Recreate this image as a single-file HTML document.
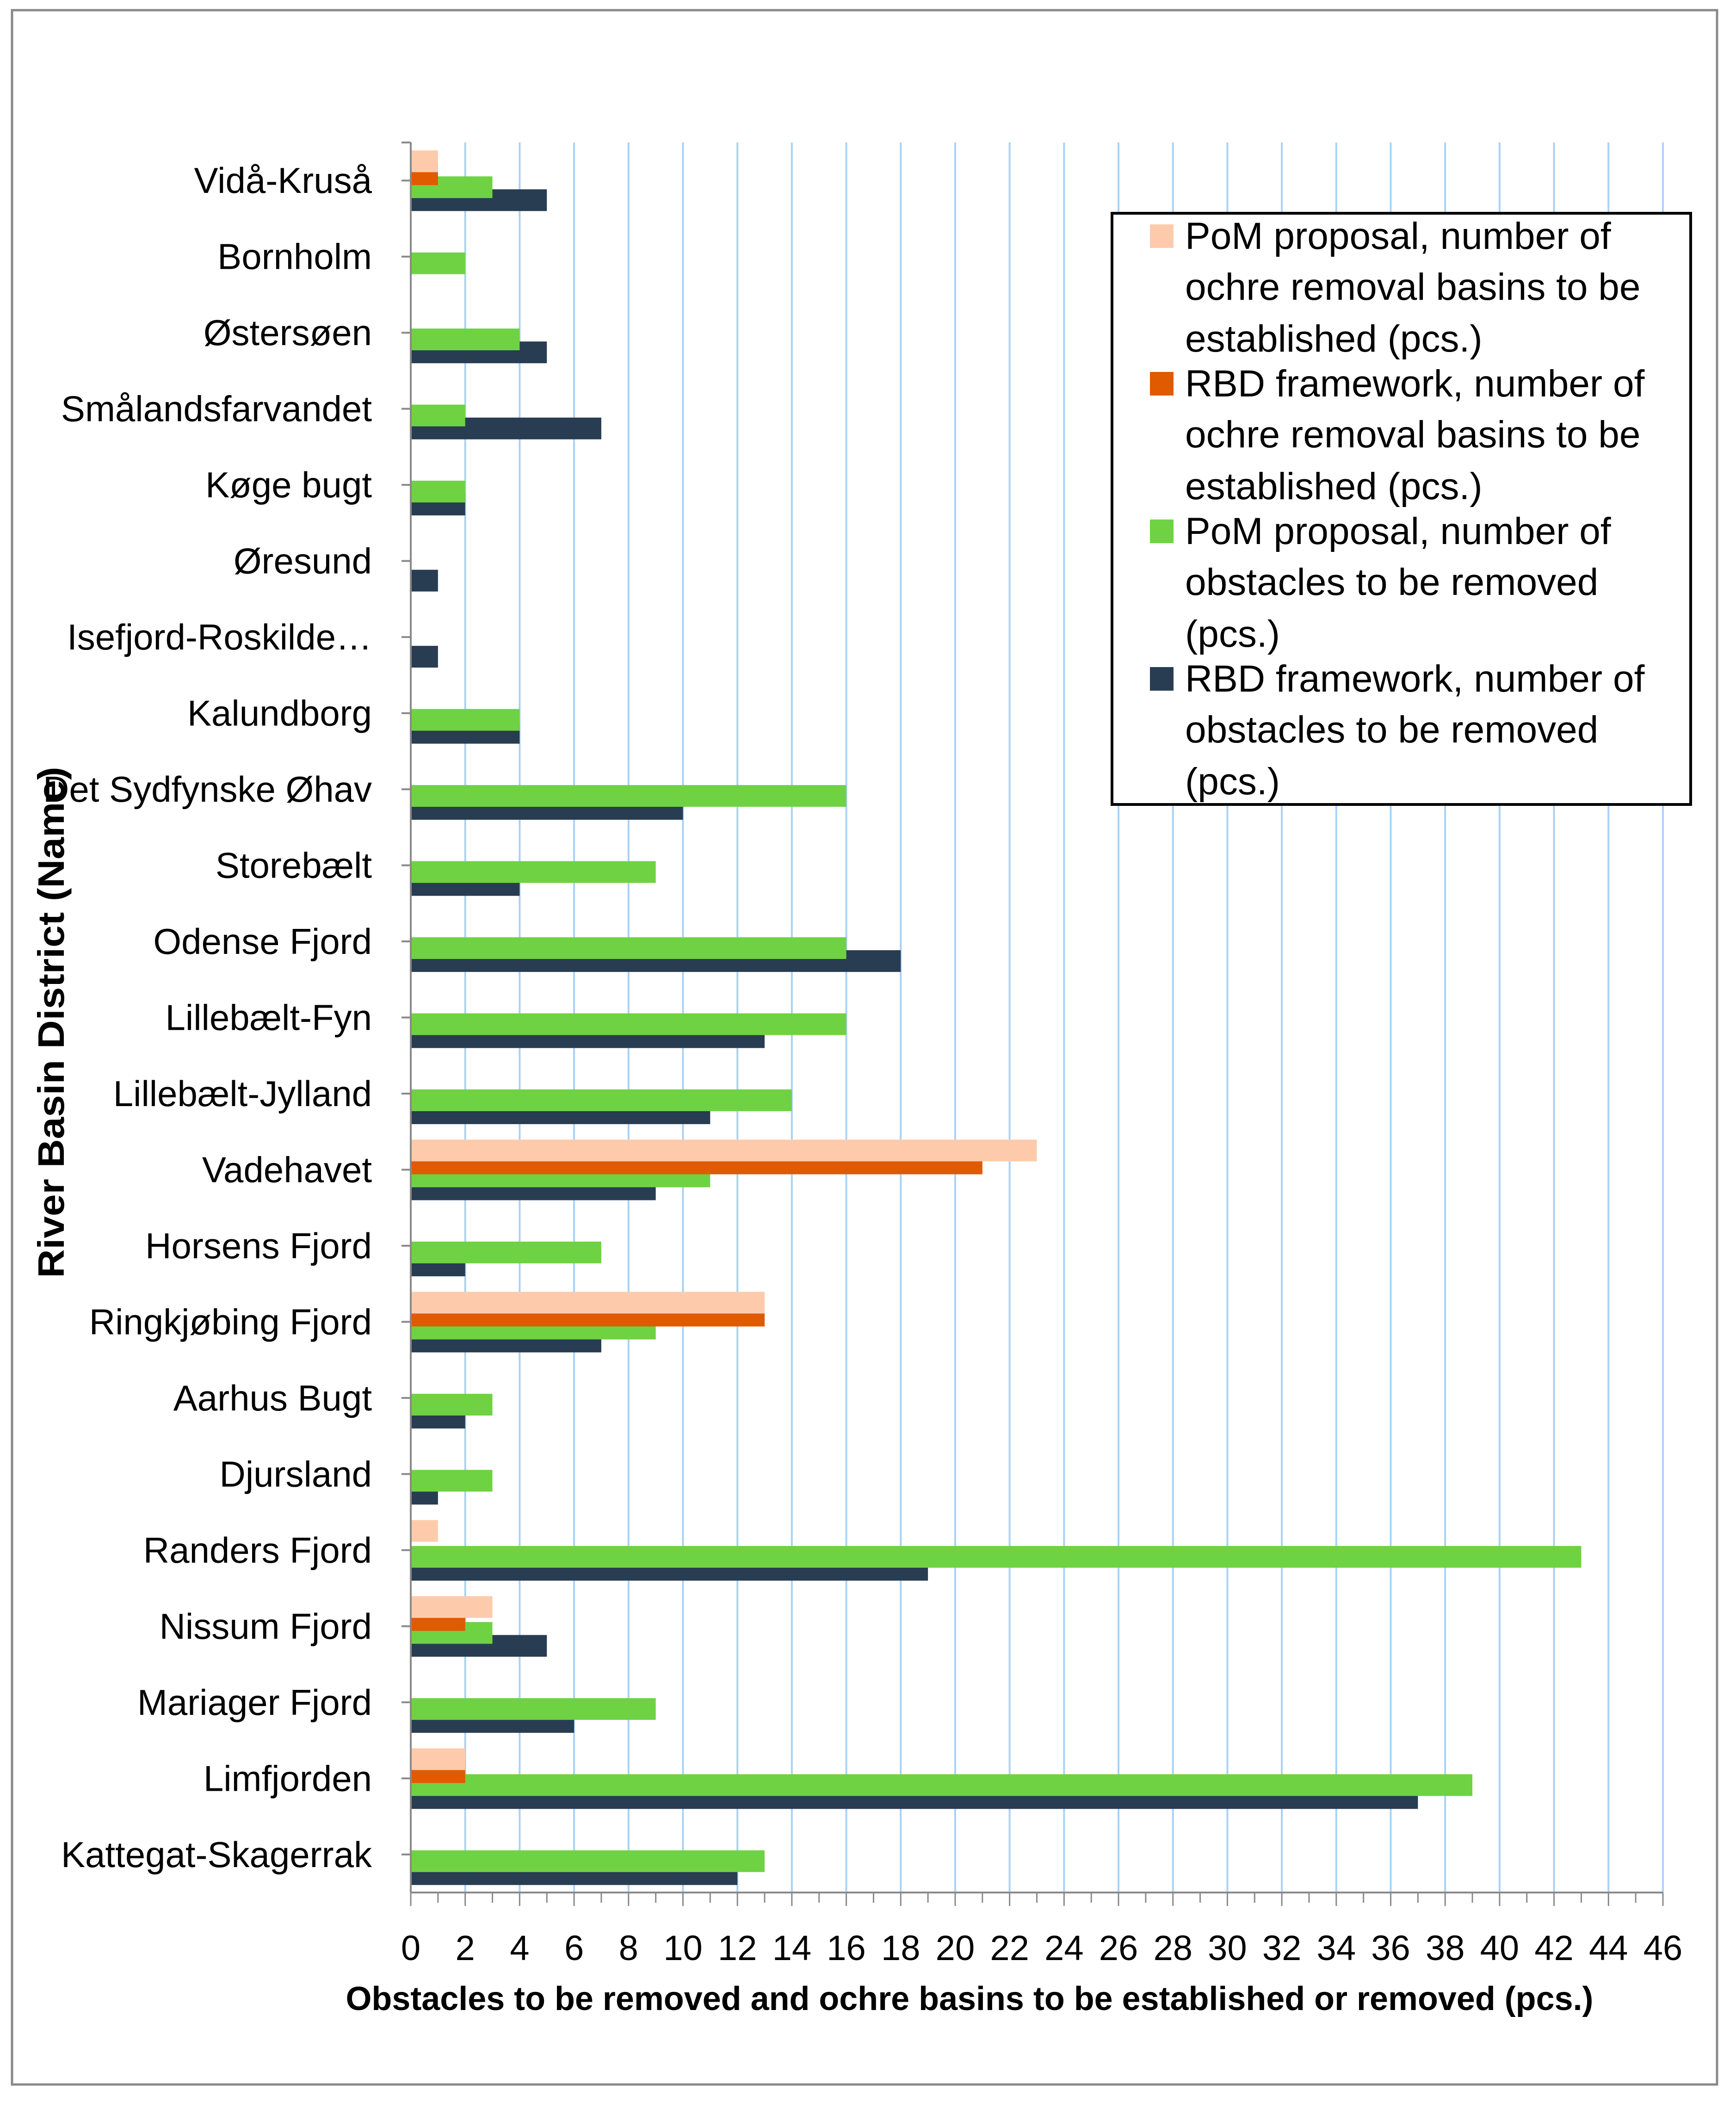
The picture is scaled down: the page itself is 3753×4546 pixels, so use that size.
<!DOCTYPE html>
<html><head><meta charset="utf-8"><style>
html,body{margin:0;padding:0;background:#fff;}
svg{display:block;font-family:"Liberation Sans",sans-serif;}
</style></head><body>
<svg id="chart" xmlns="http://www.w3.org/2000/svg" width="3753" height="4546" viewBox="0 0 3753 4546">
<rect x="26" y="22" width="3686" height="4484" fill="#fff" stroke="#898989" stroke-width="5"/>
<g id="grid"></g>
<g id="bars"></g>
<g id="axes"></g>
<g id="ylabels" font-size="78" text-anchor="end" fill="#000"></g>
<g id="xlabels" font-size="76" text-anchor="middle" fill="#000"></g>
<text x="2096" y="4345" font-size="72" font-weight="bold" text-anchor="middle" textLength="2697" lengthAdjust="spacingAndGlyphs">Obstacles to be removed and ochre basins to be established or removed (pcs.)</text>
<text x="0" y="0" font-size="80" font-weight="bold" text-anchor="middle" textLength="1105" lengthAdjust="spacingAndGlyphs" transform="translate(138,2210) rotate(-90)">River Basin District (Name)</text>
<g>
<rect x="2404" y="461" width="1251" height="1278" fill="#fff" stroke="#000" stroke-width="6"/>
<rect x="2486" y="485" width="51" height="51" fill="#fdcbac"/>
<rect x="2486" y="804" width="51" height="51" fill="#e05a00"/>
<rect x="2486" y="1123" width="51" height="51" fill="#6fd242"/>
<rect x="2486" y="1442" width="51" height="51" fill="#283d52"/>
<g font-size="82" fill="#000">
<text><tspan x="2562" y="538">PoM proposal, number of</tspan><tspan x="2562" y="648">ochre removal basins to be</tspan><tspan x="2562" y="760">established (pcs.)</tspan></text>
<text><tspan x="2562" y="857">RBD framework, number of</tspan><tspan x="2562" y="967">ochre removal basins to be</tspan><tspan x="2562" y="1079">established (pcs.)</tspan></text>
<text><tspan x="2562" y="1176">PoM proposal, number of</tspan><tspan x="2562" y="1286">obstacles to be removed</tspan><tspan x="2562" y="1398">(pcs.)</tspan></text>
<text><tspan x="2562" y="1495">RBD framework, number of</tspan><tspan x="2562" y="1605">obstacles to be removed</tspan><tspan x="2562" y="1717">(pcs.)</tspan></text>
</g>
</g>
</svg>
<script>
const categories = ["Vidå-Kruså","Bornholm","Østersøen","Smålandsfarvandet","Køge bugt","Øresund","Isefjord-Roskilde…","Kalundborg","Det Sydfynske Øhav","Storebælt","Odense Fjord","Lillebælt-Fyn","Lillebælt-Jylland","Vadehavet","Horsens Fjord","Ringkjøbing Fjord","Aarhus Bugt","Djursland","Randers Fjord","Nissum Fjord","Mariager Fjord","Limfjorden","Kattegat-Skagerrak"];
const pomOchre = [1,0,0,0,0,0,0,0,0,0,0,0,0,23,0,13,0,0,1,3,0,2,0];
const rbdOchre = [1,0,0,0,0,0,0,0,0,0,0,0,0,21,0,13,0,0,0,2,0,2,0];
const pomObstacles = [3,2,4,2,2,0,0,4,16,9,16,16,14,11,7,9,3,3,43,3,9,39,13];
const rbdObstacles = [5,0,5,7,2,1,1,4,10,4,18,13,11,9,2,7,2,1,19,5,6,37,12];
const xTicks = [0,2,4,6,8,10,12,14,16,18,20,22,24,26,28,30,32,34,36,38,40,42,44,46];

const NS = "http://www.w3.org/2000/svg";
const X0 = 888, X1 = 3595, XMAX = 46, Y0 = 308, Y1 = 4091;
const band = (Y1 - Y0) / categories.length;
function xs(v){ return X0 + (X1 - X0) * v / XMAX; }
function yc(i){ return Y0 + band * (i + 0.5); }
function mk(tag, attrs, parent){ const e = document.createElementNS(NS, tag); for (const k in attrs) e.setAttribute(k, attrs[k]); parent.appendChild(e); return e; }

const grid = document.getElementById('grid');
xTicks.forEach(t => { if (t === 0) return;
  const l = mk('line', {x1: xs(t), x2: xs(t), y1: Y0, y2: Y1, stroke: '#a9d1f5', 'stroke-width': 4}, grid);
  
  
});

const bars = document.getElementById('bars');
const series = [
  {vals: rbdObstacles, color: '#283d52', off: 19, name: 'bar-rbd-obstacles'},
  {vals: pomObstacles, color: '#6fd242', off: -9, name: 'bar-pom-obstacles'},
  {vals: rbdOchre, color: '#e05a00', off: -37, name: 'bar-rbd-ochre'},
  {vals: pomOchre, color: '#fdcbac', off: -65, name: 'bar-pom-ochre'}
];
series.forEach(s => {
  s.vals.forEach((v, i) => {
    if (v <= 0) return;
    const r = mk('rect', {x: X0, y: yc(i) + s.off, width: xs(v) - X0, height: 47, fill: s.color}, bars);
    
    
  });
});

const axes = document.getElementById('axes');
const ya = mk('line', {x1: X0, x2: X0, y1: Y0, y2: Y1, stroke: '#898989', 'stroke-width': 4}, axes);


mk('line', {x1: X0 - 20, x2: X0, y1: Y0, y2: Y0, stroke: '#898989', 'stroke-width': 4}, axes);
categories.forEach((c, i) => {
  const t = mk('line', {x1: X0 - 20, x2: X0, y1: yc(i), y2: yc(i), stroke: '#898989', 'stroke-width': 4}, axes);
  
  
});
const xa = mk('line', {x1: X0, x2: X1, y1: Y1, y2: Y1, stroke: '#898989', 'stroke-width': 4}, axes);


for (let v = 0; v <= XMAX; v++) {
  const len = v % 2 === 0 ? 29 : 22;
  const t = mk('line', {x1: xs(v), x2: xs(v), y1: Y1, y2: Y1 + len, stroke: '#898989', 'stroke-width': 3}, axes);
  
  
}

const yl = document.getElementById('ylabels');
categories.forEach((c, i) => {
  const t = mk('text', {x: 804, y: yc(i) + 27}, yl);
  t.textContent = c;
  
  
});
const xl = document.getElementById('xlabels');
xTicks.forEach(v => {
  const t = mk('text', {x: xs(v), y: 4237}, xl);
  t.textContent = v;
  
  
});
</script>
</body></html>
